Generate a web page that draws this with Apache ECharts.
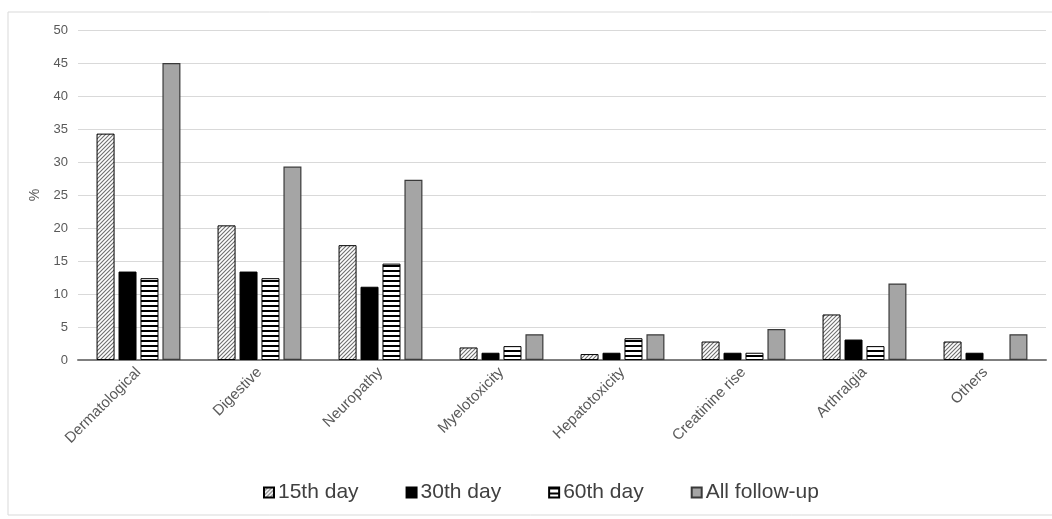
<!DOCTYPE html>
<html>
<head>
<meta charset="utf-8">
<script src="https://cdn.jsdelivr.net/npm/echarts@6/dist/echarts.min.js"></script>
<style>
html,body{margin:0;padding:0;background:#fff;}
#chart{width:1052px;height:519px;}
</style>
</head>
<body>
<div id="chart"></div>
<script>
const categories = ['Dermatological','Digestive','Neuropathy','Myelotoxicity','Hepatotoxicity','Creatinine rise','Arthralgia','Others'];
const seriesNames = ['15th day','30th day','60th day','All follow-up'];
const day15 = [34.3, 20.4, 17.4, 1.9, 0.9, 2.8, 6.9, 2.8];
const day30 = [13.4, 13.4, 11.1, 1.1, 1.1, 1.1, 3.1, 1.1];
const day60 = [12.4, 12.4, 14.6, 2.1, 3.3, 1.1, 2.1, 0];
const allFollowUp = [45.0, 29.3, 27.3, 3.9, 3.9, 4.7, 11.6, 3.9];
const yTicks = {min: 0, max: 50, interval: 5};

function hatchPattern() {
  const c = document.createElement('canvas');
  c.width = 4; c.height = 4;
  const g = c.getContext('2d');
  g.fillStyle = '#ffffff'; g.fillRect(0,0,4,4);
  g.strokeStyle = '#6f6f6f'; g.lineWidth = 1.1;
  g.beginPath();
  g.moveTo(-1,5); g.lineTo(5,-1);
  g.moveTo(-1,1); g.lineTo(1,-1);
  g.moveTo(3,5); g.lineTo(5,3);
  g.stroke();
  return c;
}
function stripePattern() {
  const c = document.createElement('canvas');
  c.width = 4; c.height = 5;
  const g = c.getContext('2d');
  g.fillStyle = '#ffffff'; g.fillRect(0,0,4,5);
  g.fillStyle = '#000000'; g.fillRect(0,0,4,2);
  return c;
}

const styles = [
  {color: {image: hatchPattern(), repeat: 'repeat'}, borderColor: '#000', borderWidth: 1},
  {color: '#000000', borderColor: '#000', borderWidth: 1},
  {color: {image: stripePattern(), repeat: 'repeat'}, borderColor: '#000', borderWidth: 1},
  {color: '#a5a5a5', borderColor: '#3a3a3a', borderWidth: 1.2}
];
const dataSets = [day15, day30, day60, allFollowUp];

const chart = echarts.init(document.getElementById('chart'), null, {renderer: 'canvas'});
chart.setOption({
  animation: false,
  backgroundColor: '#ffffff',
  graphic: [{
    type: 'rect', shape: {x: 8, y: 12, width: 1060, height: 503},
    style: {fill: 'none', stroke: '#d9d9d9', lineWidth: 1}, silent: true, z: -1
  }],
  grid: {left: 78, right: 6, top: 30, bottom: 159, containLabel: false},
  legend: {
    data: seriesNames,
    bottom: 11,
    left: 258,
    itemWidth: 10, itemHeight: 10,
    itemGap: 47,
    icon: 'rect',
    textStyle: {fontFamily: 'Liberation Sans, Arial, sans-serif', fontSize: 21, color: '#404040', padding: [0,0,0,-1]}
  },
  xAxis: {
    type: 'category',
    data: categories,
    axisLine: {lineStyle: {color: '#7f7f7f', width: 2}},
    axisTick: {show: false},
    axisLabel: {rotate: 45, fontFamily: 'Liberation Sans, Arial, sans-serif', fontSize: 15, color: '#595959', margin: 10, interval: 0}
  },
  yAxis: {
    type: 'value',
    min: yTicks.min, max: yTicks.max, interval: yTicks.interval,
    name: '%', nameLocation: 'middle', nameRotate: 90, nameGap: 36,
    nameTextStyle: {fontFamily: 'Liberation Sans, Arial, sans-serif', fontSize: 14, color: '#595959'},
    axisLine: {show: false},
    axisTick: {show: false},
    axisLabel: {fontFamily: 'Liberation Sans, Arial, sans-serif', fontSize: 13, color: '#595959', margin: 10},
    splitLine: {lineStyle: {color: '#d9d9d9', width: 1}}
  },
  series: seriesNames.map((n, i) => ({
    name: n,
    type: 'bar',
    data: dataSets[i].map(v => v === 0 ? {value: v, itemStyle: {borderWidth: 0}} : v),
    barWidth: 18,
    barGap: '22%',
    itemStyle: styles[i]
  }))
});
</script>
</body>
</html>
